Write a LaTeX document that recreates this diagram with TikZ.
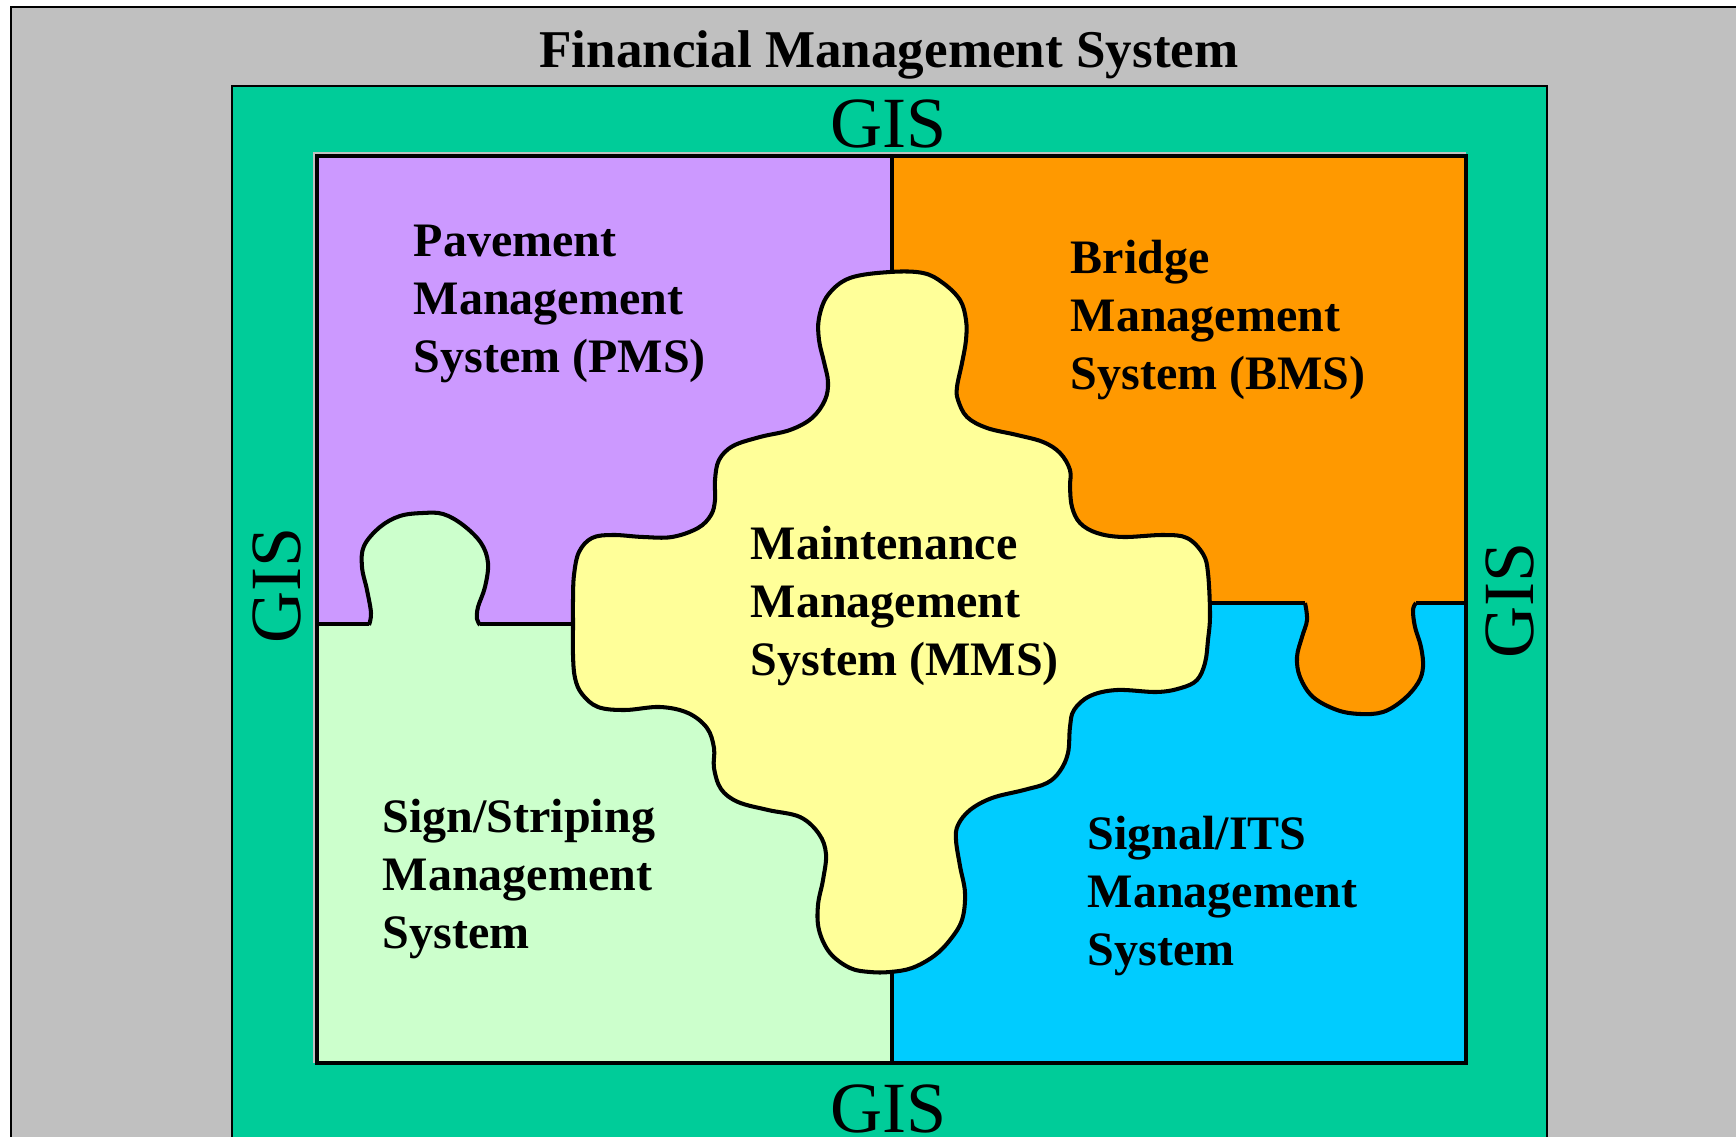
\documentclass[tikz,border=0pt]{standalone}
\usepackage{fontspec}
\setmainfont{Liberation Serif}
\definecolor{frameGray}{RGB}{192,192,192}
\definecolor{gisGreen}{RGB}{0,204,153}
\definecolor{pmsPurple}{RGB}{204,153,255}
\definecolor{bmsOrange}{RGB}{255,153,0}
\definecolor{ssGreen}{RGB}{204,255,204}
\definecolor{itsBlue}{RGB}{0,204,255}
\definecolor{mmsYellow}{RGB}{255,255,153}

\begin{document}
\begin{tikzpicture}[x=0.01cm, y=-0.01cm]
    \tikzstyle{piece}=[draw=black, line width=1.15pt, line join=round]
    \tikzstyle{seam}=[draw=black, line width=0.95pt]
    \tikzstyle{sysname}=[anchor=north west, inner sep=0pt, align=left, font=\fontsize{13.66pt}{16.6pt}\selectfont\bfseries]
    \tikzstyle{gis}=[anchor=base, inner sep=0pt, font=\fontsize{20.5pt}{24pt}\selectfont]

    \useasboundingbox (0,0) rectangle (1736,1137);

    % Page background
    \fill[white] (0,0) rectangle (1736,1137);
    \fill[frameGray] (11,7) rectangle (1736,1137);
    \draw[line width=0.6pt] (11,1137) -- (11,7) -- (1736,7);

    % GIS frame
    \fill[gisGreen] (232,86) rectangle (1547,1137);
    \draw[line width=0.8pt] (232,1137) -- (232,86) -- (1547,86) -- (1547,1137);

    % Quadrants
    \fill[pmsPurple] (317,156) rectangle (892,624);
    \fill[bmsOrange] (892,156) rectangle (1466,603);
    \fill[ssGreen] (317,624) rectangle (892,1063);
    \fill[itsBlue] (892,603) rectangle (1466,1063);

    % Seams between quadrants
    \draw[seam] (892,156) -- (892,1063);
    \draw[seam] (317,624) -- (369,624);
    \draw[seam] (480,624) -- (600,624);
    \draw[seam] (1180,603) -- (1305,603);
    \draw[seam] (1416,603) -- (1466,603);

    % Tab of the sign/striping piece
    \filldraw[piece, fill=ssGreen] plot[smooth, tension=0.6] coordinates {
        (369,625) (371,613) (367,590) (362,567) (364,546) (380,527) (400,516)
        (423,513) (443,514) (463,525) (481,543) (488,563) (485,587) (478,607)
        (477,619) (480,625)};

    % Tab of the bridge piece
    \filldraw[piece, fill=bmsOrange] plot[smooth, tension=0.6] coordinates {
        (1305,603) (1307,620) (1302,637) (1297,657) (1300,677) (1313,697)
        (1337,710) (1360,714) (1383,712) (1403,700) (1418,683) (1423,667)
        (1421,647) (1415,627) (1413,610) (1416,603)};

    % Maintenance piece
    \filldraw[piece, fill=mmsYellow] plot[smooth cycle, tension=0.6] coordinates {
        (890,272) (850,278) (828,295) (819,318) (819,340) (824,362) (828,382)
        (825,400) (812,418) (790,430) (760,437) (733,446) (719,460) (715,480)
        (715,500) (711,515) (698,528) (672,537) (643,537) (613,535) (592,538)
        (579,552) (574,575) (573,600) (573,625) (573,655) (575,678) (582,694)
        (598,707) (625,710) (660,707) (688,713) (707,728) (714,748) (714,768)
        (721,789) (738,802) (768,810) (800,817) (819,834) (826,854) (823,880)
        (818,905) (819,930) (830,953) (850,968) (870,972) (890,972) (912,968)
        (934,956) (950,940) (962,920) (965,893) (960,866) (956,840) (958,825)
        (970,810) (992,798) (1024,790) (1047,783) (1060,771) (1068,753)
        (1070,727) (1074,710) (1090,696) (1117,690) (1157,692) (1181,688)
        (1197,680) (1205,663) (1208,640) (1210,615) (1208,573) (1203,554)
        (1187,538) (1163,535) (1123,537) (1097,533) (1080,523) (1072,507)
        (1070,487) (1070,470) (1060,453) (1043,442) (1017,435) (987,428)
        (967,417) (958,400) (957,387) (962,363) (966,340) (966,320) (960,300)
        (943,283) (923,273)};

    % Inner frame
    \draw[frameGray, line width=0.6pt] (314,1063) -- (314,153) -- (1466,153);
    \draw[line width=1.1pt] (317,156) rectangle (1466,1063);

    % Titles
    \node[anchor=base, inner sep=0pt, font=\fontsize{15.1pt}{18pt}\selectfont\bfseries] (fms) at (889,68) {Financial Management System};
    \node[gis] (gis-top) at (889,148) {GIS};
    \node[gis] (gis-bottom) at (889,1132) {GIS};
    \node[gis, rotate=90] (gis-left) at (300,585) {GIS};
    \node[gis, rotate=90] (gis-right) at (1533,600) {GIS};

    % System names
    \node[sysname] (pms) at (413,224) {Pavement\\Management\\System (PMS)};
    \node[sysname] (bms) at (1070,239) {Bridge\\Management\\System (BMS)};
    \node[sysname] (mms) at (750,525) {Maintenance\\Management\\System (MMS)};
    \node[sysname] (ss) at (382,798) {Sign/Striping\\Management\\System};
    \node[sysname] (its) at (1087,815) {Signal/ITS\\Management\\System};

\end{tikzpicture}
\end{document}
